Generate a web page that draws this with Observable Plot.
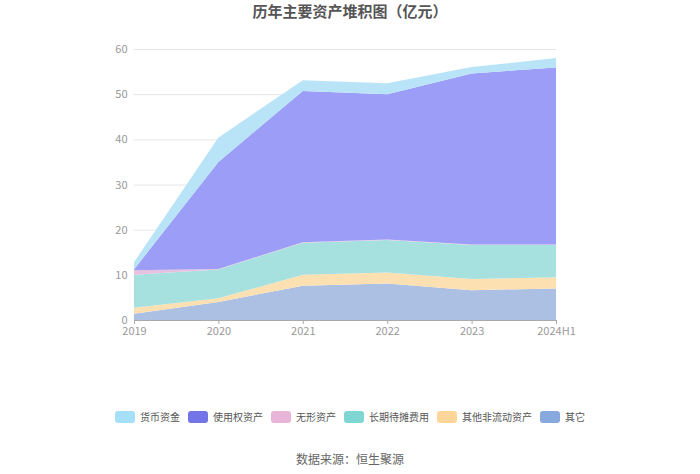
<!DOCTYPE html>
<html><head><meta charset="utf-8">
<script src="https://cdn.jsdelivr.net/npm/d3@7"></script>
<script src="https://cdn.jsdelivr.net/npm/@observablehq/plot@0.6"></script>
<style>
body{margin:0;background:#fff;font-family:"Noto Sans CJK SC","Noto Sans",sans-serif;width:700px;height:474px;overflow:hidden}
#title{height:26px;line-height:22px;text-align:center;font-size:15px;font-weight:bold;color:#555}
#legend{margin-top:64px;display:flex;justify-content:center;font-size:10px;color:#555;height:14px;line-height:14px}
.item{display:flex;align-items:center;margin:0 4px}
.sw{width:20px;height:12px;border-radius:3px;margin-right:5px}
#src{margin-top:26px;text-align:center;font-size:12px;color:#666}
</style></head><body>
<div id="title">历年主要资产堆积图（亿元）</div>
<div id="chart"></div>
<div id="legend"></div>
<div id="src">数据来源：恒生聚源</div>
<script>
const periods = ["2019","2020","2021","2022","2023","2024H1"];
const seriesNames = ["其它","其他非流动资产","长期待摊费用","无形资产","使用权资产","货币资金"];
const qita      = [1.4, 4.0, 7.6, 8.1, 6.6, 7.0];
const qitaFld   = [1.3, 0.8, 2.4, 2.4, 2.5, 2.45];
const changqi   = [7.3, 6.4, 7.1, 7.2, 7.5, 7.15];
const wuxing    = [1.0, 0.1, 0.1, 0.1, 0.1, 0.1];
const shiyong   = [0.2, 23.7, 33.5, 32.2, 37.9, 39.2];
const huobi     = [1.6, 5.4, 2.4, 2.4, 1.4, 2.1];
const legendColors = ["#88a9dd","#fed69a","#7fd6d3","#e8b4d8","#7374e6","#a5dff8"];
const areaColors   = ["#abc0e3","#fde0b2","#a6e0df","#e6c2e0","#9b9df6","#b9e4f8"];
const yTicks = [0,10,20,30,40,50,60];

const valuesBySeries = [qita, qitaFld, changqi, wuxing, shiyong, huobi];
const data = [];
seriesNames.forEach((s, si) => periods.forEach((p, i) => data.push({i, s, v: valuesBySeries[si][i]})));

const plot = Plot.plot({
  width: 700, height: 320,
  marginTop: 23, marginBottom: 26, marginLeft: 134, marginRight: 144,
  style: {fontFamily: '"Noto Sans CJK SC","Noto Sans",sans-serif', fontSize: "11px", color: "#999"},
  x: {type: "linear", domain: [0, 5], label: null},
  y: {domain: [0, 60], label: null},
  color: {domain: seriesNames, range: areaColors},
  marks: [
    Plot.gridY(yTicks.filter(d => d > 0), {stroke: "#e6e6e6", strokeOpacity: 1}),
    Plot.areaY(data, {x: "i", y: "v", fill: "s", order: seriesNames, curve: "linear", fillOpacity: 1}),
    Plot.ruleY([0], {stroke: "#aaa"}),
    Plot.axisY(yTicks, {tickSize: 0, tickPadding: 7, fill: "#999", fontSize: 11}),
    Plot.axisX(d3.range(periods.length), {tickSize: 4, stroke: "#aaa", tickPadding: 3, fill: "#999", fontSize: 11, tickFormat: i => periods[i]})
  ]
});
document.getElementById("chart").appendChild(plot);

const lg = document.getElementById("legend");
[...seriesNames].reverse().forEach((s) => {
  const idx = seriesNames.indexOf(s);
  const it = document.createElement("div"); it.className = "item";
  it.innerHTML = `<div class="sw" style="background:${legendColors[idx]}"></div><span>${s}</span>`;
  lg.appendChild(it);
});
</script>
</body></html>
